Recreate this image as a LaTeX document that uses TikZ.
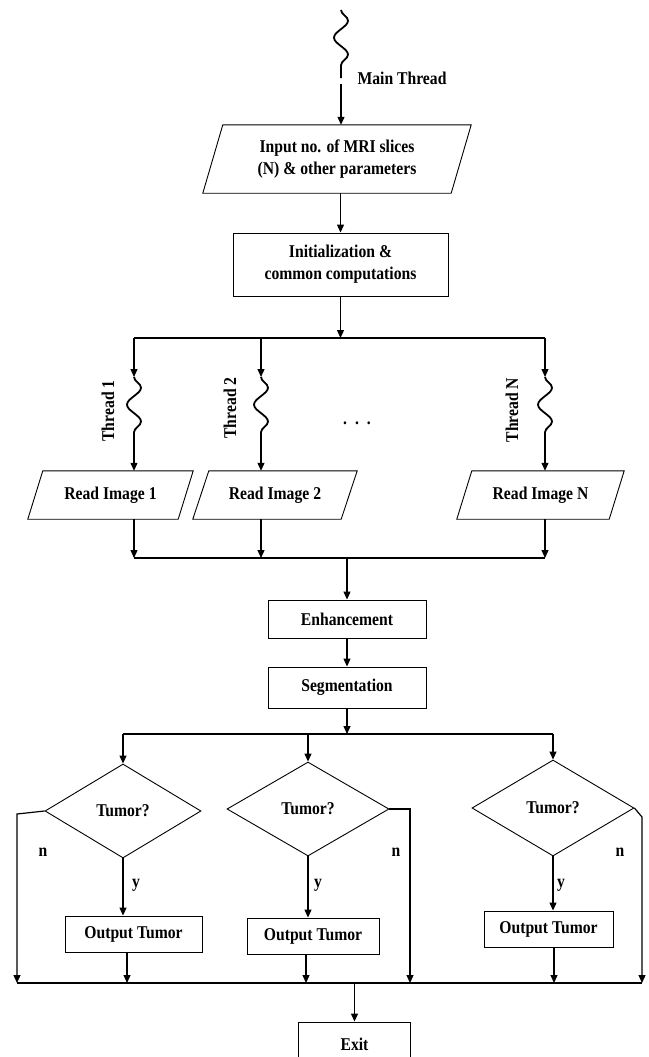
\documentclass[tikz,border=0pt]{standalone}
\usepackage{fontspec}
\setmainfont{Liberation Serif}[FakeStretch=0.87]
\usepackage{tikz}
\usetikzlibrary{positioning, arrows.meta, shapes.geometric, decorations.pathmorphing}
\newcommand{\txt}{\fontsize{18}{22}\selectfont\bfseries}

\begin{document}
\begin{tikzpicture}[x=1pt, y=-1pt,
    arr/.style={line width=1.2pt, -{Triangle[length=8pt, width=7pt]}},
    ln/.style={line width=1.2pt},
    wave/.style={line width=1.8pt, decorate, decoration={snake, segment length=34pt, amplitude=7pt}},
    proc/.style={draw, line width=0.9pt, align=center, font=\txt},
    io/.style={align=center, font=\txt},
    decide/.style={draw, line width=0.9pt, diamond, font=\txt},
    lbl/.style={font=\txt, inner sep=0pt}]
                \useasboundingbox (0,0) rectangle (648,1057);

                % main thread
                \coordinate (m0) at (341,10);
                \coordinate (m1) at (341,78);
                \coordinate (m2) at (341,84);
                \draw[wave] (m0) -- (m1);
                \node[lbl] (mlab) at (402,78) {Main Thread};
                \node[io, minimum width=268, minimum height=68] (in) at (337,159) {Input no. of MRI slices\\(N) \& other parameters};
                \node[proc, minimum width=215, minimum height=63] (init) at (340.5,264.5) {Initialization \&\\common computations};

                \draw[arr] (m2) -- (m2 |- in.north);
                \draw[arr] (in.south -| init.north) -- (init.north);

                % threads
                \coordinate (s1) at (340.5,338);
                \coordinate (t1) at (134,338);
                \coordinate (t2) at (261,338);
                \coordinate (tN) at (545,338);
                \draw[arr] (init.south) -- (s1);
                \draw[ln] (t1) -- (tN);

                \node[io, minimum width=165, minimum height=48] (r1) at (110.5,495) {Read Image 1};
                \node[io, minimum width=164, minimum height=48] (r2) at (275,495) {Read Image 2};
                \node[io, minimum width=167, minimum height=48] (rN) at (540.5,495) {Read Image N};

                % slanted input boxes
                \foreach \p/\s in {in/20, r1/15, r2/16, rN/15}
                    \draw[line width=0.9pt] ([xshift=\s pt]\p.north west) -- (\p.north east)
                        -- ([xshift=-\s pt]\p.south east) -- (\p.south west) -- cycle;

                \foreach \t/\r in {t1/r1, t2/r2, tN/rN} {
                    \coordinate (\t a) at ([yshift=-39pt]\t);
                    \coordinate (\t b) at ([yshift=-109pt]\t);
                    \draw[arr] (\t) -- (\t a);
                    \draw[wave] (\t a) -- (\t b);
                    \draw[arr] (\t b) -- (\t |- \r.north);
                }
                \node[lbl, rotate=90] (th1) at (108,411) {Thread 1};
                \node[lbl, rotate=90] (th2) at (230,408) {Thread 2};
                \node[lbl, rotate=90] (thN) at (512,410) {Thread N};
                \node[lbl] (dots1) at (357,423) {.\hspace{8pt}.\hspace{8pt}.};

                % join of the threads
                \coordinate (j1) at (134,558);
                \coordinate (j2) at (261,558);
                \coordinate (jN) at (545,558);
                \coordinate (jc) at (347,558);
                \draw[arr] (r1.south -| j1) -- (j1);
                \draw[arr] (r2.south -| j2) -- (j2);
                \draw[arr] (rN.south -| jN) -- (jN);
                \draw[ln] (j1) -- (jN);

                \node[proc, minimum width=158, minimum height=38] (enh) at (347,619) {Enhancement};
                \node[proc, minimum width=158, minimum height=41] (seg) at (347,687.5) {Segmentation};
                \draw[arr] (jc) -- (enh.north);
                \draw[arr] (enh.south) -- (seg.north);

                % decisions
                \node[decide, minimum width=156, minimum height=94] (d1) at (123,811) {Tumor?};
                \node[decide, minimum width=162, minimum height=94] (d2) at (308,809) {Tumor?};
                \node[decide, minimum width=162, minimum height=96] (d3) at (553,808) {Tumor?};
                \coordinate (s2) at (347,734);
                \draw[arr] (seg.south) -- (s2);
                \draw[ln] (s2 -| d1.north) -- (s2 -| d3.north);
                \foreach \d in {d1, d2, d3}
                    \draw[arr] (s2 -| \d.north) -- (\d.north);

                \node[proc, minimum width=137, minimum height=36] (o1) at (133.5,934) {Output Tumor};
                \node[proc, minimum width=132, minimum height=36] (o2) at (313,936) {Output Tumor};
                \node[proc, minimum width=129, minimum height=36] (o3) at (548.5,929) {Output Tumor};
                \foreach \d/\o in {d1/o1, d2/o2, d3/o3}
                    \draw[arr] (\d.south) -- (\d.south |- \o.north);

                \node[lbl] (y1) at (136,885) {y};
                \node[lbl] (y2) at (318,885) {y};
                \node[lbl] (y3) at (561,885) {y};
                \node[lbl] (n1) at (43,852) {n};
                \node[lbl] (n2) at (396,852) {n};
                \node[lbl] (n3) at (620,852) {n};

                % final join
                \coordinate (k0) at (17,983);
                \coordinate (k1) at (127,983);
                \coordinate (k2) at (306,983);
                \coordinate (k3) at (410,983);
                \coordinate (k4) at (554,983);
                \coordinate (k5) at (642,983);
                \coordinate (kc) at (354.5,983);
                \draw[arr] (d1.west) -- (17,814) -- (k0);
                \draw[arr] (d2.east) -- (d2.east -| k3) -- (k3);
                \draw[arr] (d3.east) -- (642,817) -- (k5);
                \draw[arr] (k1 |- o1.south) -- (k1);
                \draw[arr] (k2 |- o2.south) -- (k2);
                \draw[arr] (k4 |- o3.south) -- (k4);
                \draw[ln] (k0) -- (k5);

                \node[proc, minimum width=112, minimum height=44] (exit) at (354.5,1044) {Exit};
                \draw[arr] (kc) -- (exit.north);
            \end{tikzpicture}
\end{document}
